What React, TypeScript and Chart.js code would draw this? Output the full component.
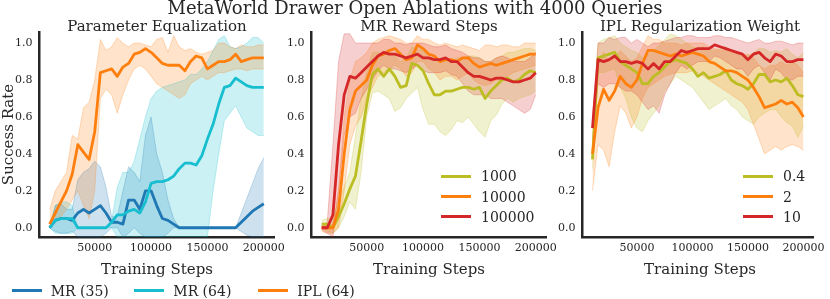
import React, { useEffect, useRef } from "react";
import { Chart, registerables } from "chart.js";

Chart.register(...registerables);

// ---------------- data ----------------
const STEPS = [
  10000, 15000, 20000, 25000, 30000, 35000, 40000, 45000, 50000, 55000,
  60000, 65000, 70000, 75000, 80000, 85000, 90000, 95000, 100000, 105000,
  110000, 115000, 120000, 125000, 130000, 135000, 140000, 145000, 150000, 155000,
  160000, 165000, 170000, 175000, 180000, 185000, 190000, 195000, 200000,
];
const X_TICKS = [50000, 100000, 150000, 200000];
const Y_TICKS = [0, 0.2, 0.4, 0.6, 0.8, 1.0];

// Panel 1: Parameter Equalization
const MR35_MEAN = [0.0,0.04,0.05,0.05,0.04, 0.08,0.1,0.08,0.1,0.12, 0.08,0.03,0.03,0.02,0.15, 0.15,0.1,0.2,0.2,0.12, 0.05,0.04,0.02,0.0,0.0, 0,0,0,0,0, 0,0,0,0,0.03, 0.06,0.09,0.11,0.13];
const MR35_HI = [0.0,0.12,0.13,0.1,0.1, 0.26,0.3,0.32,0.36,0.33, 0.22,0.06,0.06,0.2,0.33, 0.3,0.25,0.5,0.6,0.4, 0.3,0.15,0.05,0.0,0.0, 0,0,0,0,0, 0,0,0,0,0.08, 0.16,0.24,0.32,0.38];
const MR35_LO = [0,-0.02,-0.03,-0.03,-0.02, -0.05,-0.05,-0.05,-0.05,-0.05, -0.03,0,0,-0.05,-0.03, 0,-0.03,-0.05,-0.05,-0.05, -0.05,-0.03,0,0,0, 0,0,0,0,0, 0,0,0,0,-0.02, -0.04,-0.05,-0.05,-0.05];

const MR64_MEAN = [0,0.04,0.05,0.05,0.05, 0,0,0,0,0, 0,0.03,0.07,0.07,0.09, 0.1,0.08,0.14,0.24,0.25, 0.25,0.26,0.28,0.32,0.35, 0.35,0.34,0.39,0.48,0.56, 0.67,0.76,0.77,0.81,0.79, 0.77,0.76,0.76,0.76];
const MR64_HI = [0,0.12,0.14,0.14,0.12, 0,0,0,0,0, 0,0.04,0.22,0.3,0.3, 0.36,0.48,0.6,0.7,0.74, 0.76,0.77,0.78,0.79,0.8, 0.83,0.83,0.86,0.9,0.96, 1.02,1.04,0.98,0.97,0.98, 1.0,1.03,1.03,1.0];
const MR64_LO = [0,-0.03,-0.03,-0.03,-0.03, 0,0,0,0,0, 0,0,-0.05,-0.05,-0.05, -0.05,-0.05,-0.05,-0.05,-0.05, -0.05,-0.05,-0.05,-0.05,-0.05, -0.05,-0.05,-0.05,-0.05,0.2, 0.4,0.58,0.62,0.66,0.6, 0.54,0.52,0.5,0.5];

const IPL64_MEAN = [0.02,0.08,0.14,0.2,0.29, 0.45,0.41,0.37,0.52,0.84, 0.85,0.86,0.82,0.87,0.89, 0.94,0.95,0.97,0.95,0.92, 0.89,0.88,0.88,0.88,0.85, 0.9,0.93,0.92,0.86,0.88, 0.9,0.9,0.91,0.94,0.9, 0.91,0.92,0.92,0.92];
const IPL64_HI = [0.1,0.2,0.25,0.3,0.5, 0.48,0.65,0.68,0.8,1.02, 0.96,0.98,1.03,1.0,0.98, 1.0,1.0,0.99,0.98,1.02, 1.03,0.95,1.04,0.98,0.96, 0.97,0.95,0.94,0.95,0.96, 1.0,1.0,0.98,0.97,0.99, 0.98,0.98,0.99,0.99];
const IPL64_LO = [0.0,0.03,0.06,0.1,0.15, 0.2,0.12,0.05,0.2,0.7, 0.75,0.72,0.62,0.72,0.8, 0.86,0.88,0.86,0.82,0.78, 0.76,0.74,0.72,0.7,0.72, 0.78,0.8,0.82,0.8,0.82, 0.84,0.84,0.85,0.86,0.86, 0.85,0.86,0.86,0.86];

// Panel 2: MR Reward Steps
const RS1000_MEAN = [0.02,0.02,0.0,0.06,0.13, 0.21,0.28,0.47,0.67,0.83, 0.86,0.82,0.86,0.82,0.76, 0.77,0.89,0.88,0.85,0.78, 0.72,0.72,0.74,0.74,0.75, 0.76,0.76,0.75,0.76,0.7, 0.74,0.77,0.8,0.81,0.79, 0.8,0.83,0.85,0.84];
const RS1000_HI = [0.04,0.05,0.05,0.15,0.22, 0.3,0.5,0.7,0.85,0.95, 0.95,0.94,0.96,0.93,0.9, 0.92,0.98,0.97,0.96,0.92, 0.9,0.9,0.9,0.9,0.92, 0.92,0.93,0.93,0.92,0.9, 0.9,0.92,0.93,0.95,0.95, 0.96,0.97,0.97,0.96];
const RS1000_LO = [0,-0.02,-0.03,0.0,0.06, 0.14,0.1,0.3,0.6,0.73, 0.74,0.72,0.7,0.63,0.65, 0.7,0.73,0.76,0.64,0.56, 0.56,0.52,0.5,0.53,0.58, 0.57,0.6,0.56,0.52,0.49, 0.58,0.61,0.67,0.7,0.68, 0.7,0.71,0.72,0.74];

const RS10000_MEAN = [0,0,0,0.1,0.4, 0.64,0.74,0.77,0.8,0.88, 0.93,0.94,0.96,0.97,0.94, 0.91,0.92,0.99,0.97,0.94, 0.93,0.9,0.91,0.91,0.9, 0.92,0.92,0.89,0.87,0.88, 0.89,0.88,0.89,0.9,0.91, 0.92,0.93,0.94,0.94];
const RS10000_HI = [0.01,0.01,0.02,0.2,0.6, 0.8,0.9,0.92,0.95,1.0, 1.02,1.03,1.04,1.03,1.02, 1.0,1.0,1.04,1.02,1.02, 1.0,0.99,1.0,0.99,0.98, 0.99,0.98,0.97,0.96,0.99, 0.99,0.98,0.99,0.99,0.98, 0.98,1.0,1.0,1.0];
const RS10000_LO = [-0.02,-0.03,-0.03,0.0,0.2, 0.45,0.55,0.6,0.7,0.76, 0.82,0.84,0.86,0.88,0.86, 0.82,0.84,0.9,0.9,0.86, 0.84,0.8,0.82,0.82,0.8, 0.82,0.84,0.8,0.78,0.77, 0.78,0.8,0.8,0.82,0.84, 0.85,0.86,0.87,0.88];

const RS100000_MEAN = [0,0,0.07,0.45,0.72, 0.82,0.81,0.84,0.87,0.9, 0.93,0.95,0.94,0.94,0.93, 0.92,0.93,0.94,0.92,0.92, 0.91,0.91,0.92,0.9,0.9, 0.87,0.84,0.82,0.82,0.81, 0.8,0.81,0.81,0.8,0.79, 0.79,0.8,0.81,0.84];
const RS100000_HI = [0.01,0.03,0.45,0.9,1.05, 1.05,1.0,1.0,1.0,1.0, 1.0,1.02,1.02,1.0,1.0, 0.99,1.0,1.0,1.0,0.99, 0.98,0.98,0.99,0.97,0.96, 0.95,0.93,0.92,0.92,0.9, 0.9,0.92,0.93,0.92,0.9, 0.9,0.9,0.92,0.95];
const RS100000_LO = [-0.01,-0.03,-0.05,0.2,0.5, 0.6,0.62,0.7,0.75,0.8, 0.85,0.88,0.86,0.86,0.85, 0.84,0.86,0.88,0.85,0.84, 0.84,0.84,0.85,0.83,0.82, 0.78,0.74,0.72,0.72,0.72, 0.7,0.7,0.7,0.68,0.66, 0.64,0.62,0.64,0.72];

// Panel 3: IPL Regularization Weight
const W04_MEAN = [0.37,0.92,0.93,0.94,0.95, 0.9,0.88,0.86,0.84,0.78, 0.78,0.82,0.84,0.87,0.9, 0.91,0.9,0.89,0.86,0.82, 0.84,0.81,0.82,0.83,0.85, 0.8,0.78,0.77,0.75,0.78, 0.83,0.83,0.79,0.8,0.79, 0.81,0.77,0.72,0.71];
const W04_HI = [0.42,1.0,1.02,1.03,1.04, 1.0,0.98,0.96,0.95,0.92, 0.94,0.96,0.99,1.02,1.05, 1.04,1.02,1.0,0.98,0.97, 0.98,0.96,0.96,0.97,0.98, 0.96,0.95,0.94,0.93,0.95, 0.97,0.97,0.95,0.96,0.95, 0.97,0.94,0.92,0.95];
const W04_LO = [0.32,0.84,0.84,0.85,0.86, 0.76,0.7,0.6,0.54,0.52, 0.58,0.62,0.66,0.74,0.78, 0.82,0.8,0.78,0.76,0.72, 0.68,0.64,0.66,0.68,0.7, 0.66,0.64,0.6,0.58,0.56, 0.6,0.62,0.64,0.64,0.6, 0.57,0.55,0.49,0.55];

const W2_MEAN = [0.4,0.65,0.75,0.69,0.74, 0.82,0.78,0.76,0.8,0.89, 0.96,0.96,0.95,0.94,0.93, 0.94,0.93,0.94,0.95,0.94, 0.93,0.9,0.89,0.87,0.85, 0.85,0.84,0.82,0.8,0.76, 0.71,0.65,0.66,0.67,0.69, 0.67,0.68,0.65,0.6];
const W2_HI = [0.45,0.88,0.95,0.9,0.92, 0.96,0.93,0.9,0.92,0.98, 1.04,1.02,1.02,1.0,1.0, 1.0,0.99,1.0,1.0,1.0, 1.0,0.98,0.97,0.96,0.96, 0.95,0.95,0.94,0.94,0.92, 0.88,0.86,0.88,0.88,0.9, 0.88,0.9,0.88,0.84];
const W2_LO = [0.2,0.45,0.42,0.33,0.52, 0.66,0.62,0.54,0.6,0.7, 0.76,0.78,0.8,0.82,0.83, 0.84,0.84,0.84,0.85,0.84, 0.82,0.8,0.78,0.76,0.74, 0.72,0.7,0.68,0.64,0.56, 0.48,0.4,0.42,0.44,0.42, 0.44,0.45,0.44,0.42];

const W10_MEAN = [0.54,0.91,0.9,0.91,0.93, 0.9,0.9,0.89,0.9,0.89, 0.86,0.89,0.86,0.9,0.9, 0.93,0.96,0.95,0.96,0.97, 0.97,0.97,0.99,0.98,0.97, 0.96,0.95,0.94,0.91,0.94, 0.95,0.92,0.9,0.94,0.93, 0.9,0.9,0.91,0.91];
const W10_HI = [0.6,1.0,1.0,1.03,1.02, 1.03,1.03,1.0,1.02,1.0, 0.98,1.0,1.0,1.01,1.02, 1.03,1.03,1.04,1.04,1.03, 1.03,1.03,1.04,1.04,1.03, 1.03,1.02,1.01,1.0,1.01, 1.02,1.0,1.0,1.01,1.01, 1.0,0.99,1.0,1.0];
const W10_LO = [0.48,0.78,0.76,0.78,0.78, 0.76,0.74,0.74,0.72,0.68, 0.64,0.66,0.62,0.72,0.78, 0.84,0.88,0.86,0.88,0.9, 0.9,0.9,0.93,0.92,0.9, 0.88,0.86,0.86,0.82,0.86, 0.88,0.84,0.8,0.86,0.84, 0.8,0.8,0.82,0.82];

// ---------------- style ----------------
const FONT = "'DejaVu Serif', 'Liberation Serif', serif";
const TEXT = "#262626";
const BLUE = "#1f77b4";
const CYAN = "#17becf";
const ORANGE = "#ff7f0e";
const OLIVE = "#bcbd22";
const RED = "#d62728";

const W = 830;
const H = 299;
const AREA_W = 235;
const AREA_TOP = 32;
const AREA_BOTTOM = 237;
const YAXIS_W = 30;
const XAXIS_H = 20;

type Series = { label: string; color: string; mean: number[]; lo: number[]; hi: number[] };
type Panel = {
  title: string;
  left: number;
  series: Series[]; // first = drawn on top
  legend: Series[] | null;
  legendX: number;
};

const S_MR35: Series = { label: "MR (35)", color: BLUE, mean: MR35_MEAN, lo: MR35_LO, hi: MR35_HI };
const S_MR64: Series = { label: "MR (64)", color: CYAN, mean: MR64_MEAN, lo: MR64_LO, hi: MR64_HI };
const S_IPL64: Series = { label: "IPL (64)", color: ORANGE, mean: IPL64_MEAN, lo: IPL64_LO, hi: IPL64_HI };
const S_RS1: Series = { label: "1000", color: OLIVE, mean: RS1000_MEAN, lo: RS1000_LO, hi: RS1000_HI };
const S_RS2: Series = { label: "10000", color: ORANGE, mean: RS10000_MEAN, lo: RS10000_LO, hi: RS10000_HI };
const S_RS3: Series = { label: "100000", color: RED, mean: RS100000_MEAN, lo: RS100000_LO, hi: RS100000_HI };
const S_W1: Series = { label: "0.4", color: OLIVE, mean: W04_MEAN, lo: W04_LO, hi: W04_HI };
const S_W2: Series = { label: "2", color: ORANGE, mean: W2_MEAN, lo: W2_LO, hi: W2_HI };
const S_W3: Series = { label: "10", color: RED, mean: W10_MEAN, lo: W10_LO, hi: W10_HI };

const PANELS: Panel[] = [
  { title: "Parameter Equalization", left: 39.5, series: [S_IPL64, S_MR64, S_MR35], legend: null, legendX: 0 },
  { title: "MR Reward Steps", left: 311.5, series: [S_RS3, S_RS2, S_RS1], legend: [S_RS1, S_RS2, S_RS3], legendX: 441 },
  { title: "IPL Regularization Weight", left: 582.5, series: [S_W3, S_W2, S_W1], legend: [S_W1, S_W2, S_W3], legendX: 743 },
];

function rgba(hex: string, a: number) {
  const n = parseInt(hex.slice(1), 16);
  return `rgba(${(n >> 16) & 255},${(n >> 8) & 255},${n & 255},${a})`;
}

function pts(arr: number[]) {
  return STEPS.map((x, i) => ({ x, y: arr[i] }));
}

function buildConfig(panel: Panel): any {
  const datasets: any[] = [];
  panel.series.forEach((s) => {
    datasets.push({
      label: s.label,
      data: pts(s.mean),
      borderColor: s.color,
      borderWidth: 2.8,
      pointRadius: 0,
      fill: false,
      tension: 0,
      borderJoinStyle: "round",
    });
  });
  panel.series.forEach((s) => {
    datasets.push({
      label: s.label + " hi",
      data: pts(s.hi),
      borderColor: rgba(s.color, 0.25),
      borderWidth: 1,
      backgroundColor: rgba(s.color, 0.22),
      pointRadius: 0,
      fill: "+1",
      tension: 0,
    });
    datasets.push({
      label: s.label + " lo",
      data: pts(s.lo),
      borderColor: rgba(s.color, 0.25),
      borderWidth: 1,
      pointRadius: 0,
      fill: false,
      tension: 0,
    });
  });

  const tickFont = { family: FONT, size: 11 };
  return {
    type: "line",
    data: { datasets },
    options: {
      animation: false,
      responsive: false,
      events: [],
      layout: {
        padding: {
          left: panel.left - YAXIS_W,
          right: W - (panel.left + AREA_W),
          top: AREA_TOP,
          bottom: H - AREA_BOTTOM - XAXIS_H,
        },
      },
      plugins: {
        legend: { display: false },
        tooltip: { enabled: false },
        title: { display: false },
        filler: { drawTime: "beforeDatasetsDraw", propagate: false },
      },
      scales: {
        x: {
          type: "linear",
          min: 1000,
          max: 209500,
          grid: { display: false, drawTicks: false },
          border: { display: true, color: TEXT, width: 2.5 },
          ticks: {
            color: TEXT,
            font: tickFont,
            padding: 5,
            maxRotation: 0,
            autoSkip: false,
            callback: (v: number) => String(v),
          },
          afterBuildTicks: (s: any) => {
            s.ticks = X_TICKS.map((v) => ({ value: v }));
          },
          afterFit: (s: any) => {
            s.height = XAXIS_H;
          },
        },
        y: {
          type: "linear",
          min: -0.05,
          max: 1.06,
          grid: { display: false, drawTicks: false },
          border: { display: true, color: TEXT, width: 2.5 },
          ticks: {
            color: TEXT,
            font: tickFont,
            padding: 7,
            autoSkip: false,
            callback: (v: number) => v.toFixed(1),
          },
          afterBuildTicks: (s: any) => {
            s.ticks = Y_TICKS.map((v) => ({ value: v }));
          },
          afterFit: (s: any) => {
            s.width = YAXIS_W;
          },
        },
      },
    },
  };
}

function PanelChart({ panel }: { panel: Panel }) {
  const ref = useRef<HTMLCanvasElement | null>(null);
  useEffect(() => {
    if (!ref.current) return;
    const chart = new Chart(ref.current, buildConfig(panel));
    return () => chart.destroy();
  }, [panel]);
  return (
    <canvas
      ref={ref}
      width={W}
      height={H}
      style={{ position: "absolute", left: 0, top: 0, width: W, height: H }}
    />
  );
}

function Txt(props: { x: number; baseline: number; size: number; center?: boolean; children: React.ReactNode }) {
  const { x, baseline, size, center, children } = props;
  const top = baseline - 0.846 * size;
  const style: React.CSSProperties = {
    position: "absolute",
    top,
    fontFamily: FONT,
    fontSize: size,
    lineHeight: `${size}px`,
    color: TEXT,
    whiteSpace: "nowrap",
  };
  if (center) {
    style.left = x - 300;
    style.width = 600;
    style.textAlign = "center";
  } else {
    style.left = x;
  }
  return <div style={style}>{children}</div>;
}

function Swatch({ x, y, color }: { x: number; y: number; color: string }) {
  return (
    <div
      style={{ position: "absolute", left: x, top: y - 1.5, width: 30, height: 3, background: color }}
    />
  );
}

const BOTTOM_LEGEND = [S_MR35, S_MR64, S_IPL64];
const BOTTOM_LEGEND_X = [11.7, 134.3, 258.3];
const LEGEND_ROWS_Y = [176, 196.5, 216.8];

export default function App() {
  return (
    <div
      style={{
        position: "absolute",
        left: 0,
        top: 0,
        width: W,
        height: H,
        background: "#ffffff",
        overflow: "hidden",
      }}
    >
      {PANELS.map((p, i) => (
        <PanelChart key={i} panel={p} />
      ))}

      <Txt x={415} baseline={14.2} size={18} center>
        MetaWorld Drawer Open Ablations with 4000 Queries
      </Txt>

      {PANELS.map((p, i) => (
        <Txt key={"t" + i} x={p.left + AREA_W / 2} baseline={31.5} size={15} center>
          {p.title}
        </Txt>
      ))}

      {PANELS.map((p, i) => (
        <Txt key={"x" + i} x={p.left + AREA_W / 2} baseline={275} size={15} center>
          Training Steps
        </Txt>
      ))}

      <div
        style={{
          position: "absolute",
          left: 8.2 - 100,
          top: 134 - 7.5,
          width: 200,
          height: 15,
          lineHeight: "15px",
          fontSize: 15,
          fontFamily: FONT,
          color: TEXT,
          textAlign: "center",
          whiteSpace: "nowrap",
          transform: "rotate(-90deg)",
        }}
      >
        Success Rate
      </div>

      {PANELS.map((p, pi) =>
        p.legend
          ? p.legend.map((s, i) => (
              <React.Fragment key={"l" + pi + "-" + i}>
                <Swatch x={p.legendX} y={LEGEND_ROWS_Y[i]} color={s.color} />
                <Txt x={p.legendX + 40} baseline={LEGEND_ROWS_Y[i] + 5} size={14}>
                  {s.label}
                </Txt>
              </React.Fragment>
            ))
          : null
      )}

      {BOTTOM_LEGEND.map((s, i) => (
        <React.Fragment key={"b" + i}>
          <Swatch x={BOTTOM_LEGEND_X[i]} y={290.7} color={s.color} />
          <Txt x={BOTTOM_LEGEND_X[i] + 39} baseline={295.7} size={14}>
            {s.label}
          </Txt>
        </React.Fragment>
      ))}
    </div>
  );
}
